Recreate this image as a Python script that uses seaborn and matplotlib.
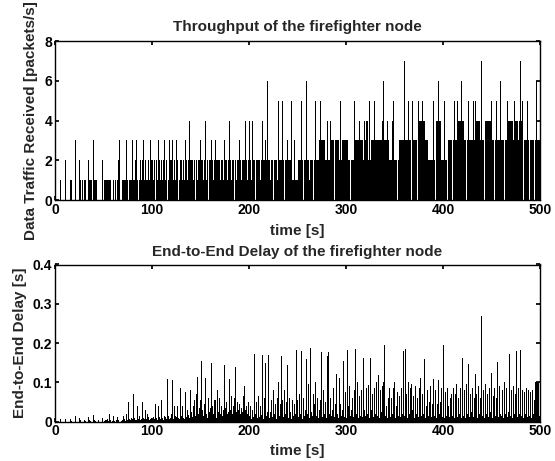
import numpy as np
import pandas as pd
import seaborn as sns
import matplotlib.pyplot as plt

# Throughput [packets/s], one digit per second, 10 s per string, t = 0..500
throughput_blocks = [
    "0000001000", "0200001100", "0300021010", "1100021110", "3111000002",
    "0111111100", "1010123100", "1111310111", "3112310121", "2312112132",
    "3212021321", "2123120132", "2312132012", "2122132124", "2221202122",
    "3221241202", "2321232022", "2122132212", "4212202122", "3212224212",
    "2421422022", "2212422326", "2212202221", "5221252022", "3222511311",
    "1222520226", "2212220225", "2223533332", "2422433303", "3332523333",
    "6332202225", "3333433324", "3442523335", "3330333346", "3334322245",
    "2220233333", "7333533305", "3333054445", "4433322222", "5204464422",
    "6252203333", "0353354446", "4433035333", "3534544443", "7330444444",
    "5330353336", "3330335444", "4443544434", "7450333530", "3333036333",
    "3",
]

# End-to-end delay [ms], t = 0..500
delay_ms = [
    0, 0, 0, 0, 0, 0, 8, 0, 0, 0,
    0, 8, 0, 0, 0, 0, 8, 3, 0, 0,
    0, 15, 0, 0, 0, 10, 4, 0, 0, 0,
    4, 3, 0, 0, 0, 12, 5, 3, 0, 0,
    16, 5, 3, 0, 0, 4, 0, 0, 0, 10,
    0, 3, 4, 5, 8, 3, 20, 5, 0, 3,
    15, 3, 0, 5, 12, 4, 0, 8, 0, 3,
    4, 15, 6, 3, 20, 5, 50, 8, 4, 10,
    6, 70, 10, 5, 4, 40, 8, 15, 5, 6,
    50, 10, 6, 30, 8, 20, 12, 5, 8, 10,
    100, 8, 12, 6, 45, 10, 5, 40, 12, 8,
    55, 10, 4, 15, 12, 8, 108, 15, 6, 10,
    20, 106, 8, 40, 15, 12, 40, 10, 6, 85,
    15, 40, 10, 25, 8, 75, 12, 30, 18, 10,
    80, 25, 12, 40, 55, 15, 70, 115, 20, 35,
    54, 155, 30, 15, 45, 112, 20, 10, 60, 25,
    35, 150, 40, 20, 55, 54, 10, 30, 80, 25,
    60, 20, 40, 15, 30, 144, 35, 50, 20, 25,
    108, 30, 65, 20, 40, 60, 140, 25, 50, 30,
    45, 20, 35, 25, 65, 90, 30, 40, 20, 50,
    137, 15, 40, 8, 30, 12, 172, 20, 50, 10,
    65, 12, 40, 18, 170, 8, 60, 150, 15, 25,
    170, 10, 25, 55, 12, 80, 20, 45, 8, 60,
    100, 15, 45, 10, 168, 55, 12, 80, 20, 50,
    145, 10, 60, 25, 8, 55, 15, 45, 20, 182,
    55, 12, 70, 20, 180, 8, 60, 15, 30, 160,
    20, 95, 10, 187, 25, 15, 70, 12, 45, 100,
    15, 60, 10, 30, 55, 177, 12, 80, 20, 50,
    10, 168, 177, 20, 60, 15, 30, 85, 12, 45,
    122, 20, 10, 110, 45, 15, 30, 155, 12, 75,
    20, 10, 182, 40, 90, 15, 30, 60, 12, 80,
    184, 20, 100, 10, 65, 15, 80, 12, 163, 30,
    15, 85, 20, 94, 10, 163, 30, 70, 12, 85,
    20, 100, 15, 35, 120, 10, 80, 25, 90, 100,
    194, 15, 40, 10, 60, 85, 12, 60, 20, 85,
    100, 10, 40, 75, 15, 65, 12, 85, 20, 180,
    15, 184, 70, 10, 100, 20, 85, 12, 95, 30,
    65, 10, 90, 20, 60, 12, 85, 110, 15, 70,
    20, 160, 10, 40, 80, 15, 50, 90, 12, 45,
    108, 15, 80, 10, 45, 105, 20, 50, 85, 12,
    20, 194, 10, 75, 15, 85, 40, 12, 60, 70,
    15, 85, 10, 70, 95, 12, 60, 20, 85, 10,
    162, 15, 80, 10, 95, 20, 148, 12, 70, 25,
    85, 12, 60, 15, 122, 70, 10, 90, 20, 60,
    270, 15, 80, 10, 95, 20, 70, 12, 85, 25,
    125, 10, 65, 85, 15, 60, 152, 12, 90, 20,
    15, 80, 10, 100, 20, 85, 12, 70, 25, 172,
    15, 80, 10, 90, 20, 70, 180, 12, 85, 20,
    182, 15, 80, 10, 75, 20, 85, 12, 80, 15,
    75, 10, 80, 20, 55, 100, 100, 100, 100, 15,
    100,
]

x_ticks = [0, 100, 200, 300, 400, 500]
thr_ticks = [0, 2, 4, 6, 8]
thr_tick_labels = ["0", "2", "4", "6", "8"]
delay_ticks = [0, 0.1, 0.2, 0.3, 0.4]
delay_tick_labels = ["0", "0.1", "0.2", "0.3", "0.4"]

time_s = np.arange(len(delay_ms))
throughput = [int(c) for block in throughput_blocks for c in block]
df = pd.DataFrame({"time": time_s, "throughput": throughput,
                   "delay": np.array(delay_ms) / 1000.0})

sns.set_theme(style="white")
plt.rcParams["font.family"] = ["Liberation Sans", "DejaVu Sans"]
plt.rcParams.update({
    "font.weight": "bold",
    "axes.labelweight": "bold",
    "axes.titleweight": "bold",
    "axes.edgecolor": "black",
    "axes.linewidth": 1.0,
    "xtick.direction": "in",
    "ytick.direction": "in",
    "xtick.bottom": True,
    "ytick.left": True,
    "xtick.top": True,
    "ytick.right": True,
    "xtick.major.size": 3,
    "ytick.major.size": 3,
    "xtick.color": "black",
    "ytick.color": "black",
})

fig = plt.figure(figsize=(5.55, 4.61), dpi=100)
fig.patch.set_facecolor("white")
ax1 = fig.add_axes([55 / 555, 1 - 200 / 461, 485 / 555, 159 / 461])
ax2 = fig.add_axes([55 / 555, 1 - 421.7 / 461, 485 / 555, 157.2 / 461])

sns.barplot(data=df, x="time", y="throughput", native_scale=True, color="black",
            saturation=1, width=1, errorbar=None, linewidth=0, ax=ax1)
sns.barplot(data=df, x="time", y="delay", native_scale=True, color="black",
            saturation=1, width=1, errorbar=None, linewidth=0, ax=ax2)

ax1.set_title("Throughput of the firefighter node", fontsize=11, pad=7)
ax1.set_ylabel("Data Traffic Received [packets/s]", fontsize=11, labelpad=5)
ax1.set_ylim(0, 8)
ax1.set_yticks(thr_ticks)
ax1.set_yticklabels(thr_tick_labels)
ax1.set_xlabel("time [s]", fontsize=11, labelpad=5)

ax2.set_title("End-to-End Delay of the firefighter node", fontsize=11, pad=6)
ax2.set_ylabel("End-to-End Delay [s]", fontsize=11, labelpad=4)
ax2.set_ylim(0, 0.4)
ax2.set_yticks(delay_ticks)
ax2.set_yticklabels(delay_tick_labels)
ax2.set_xlabel("time [s]", fontsize=11, labelpad=4)

for ax in (ax1, ax2):
    ax.set_xlim(0, 500)
    ax.set_xticks(x_ticks)
    ax.set_xticklabels([str(v) for v in x_ticks])
    ax.tick_params(labelsize=10, pad=2)
    for s in ax.spines.values():
        s.set_visible(True)
        s.set_color("black")

plt.savefig("out.png", dpi=100, facecolor="white")
plt.close()
